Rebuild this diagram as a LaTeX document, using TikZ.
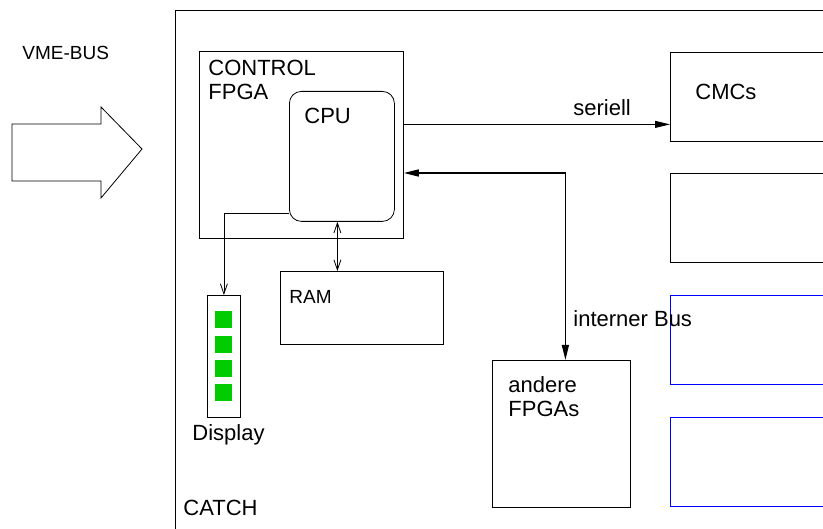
\documentclass[tikz,border=0pt]{standalone}
\usepackage{fontspec}
\setmainfont{Liberation Sans}
\usetikzlibrary{arrows.meta}
\usepackage{xcolor}

\definecolor{ledgreen}{RGB}{0,204,0}

\begin{document}
\begin{tikzpicture}[x=1pt,y=-1pt,line width=0.8pt]
      \tikzstyle{every node}=[inner sep=0pt,font=\fontsize{22}{24}\selectfont]
      \tikzstyle{box}=[draw,rectangle,anchor=north west]
      \tikzstyle{txt}=[anchor=base west,align=left]
      \tikzstyle{led}=[fill=ledgreen,anchor=north west,minimum size=17pt]
      \tikzstyle{small}=[font=\fontsize{19}{22}\selectfont]

      \useasboundingbox (0,0) rectangle (823,529);
      \clip (0,0) rectangle (823,529);

      % VME bus arrow
      \draw (12,124) -- (101,124) -- (101,107) -- (142,149) -- (101,198) -- (101,181) -- (12,181) -- cycle;
      \node[txt,small] (vme) at (22,60) {VME-BUS};

      % CATCH board
      \node[box,minimum width=725pt,minimum height=600pt] (catch) at (175,10) {};
      \node[txt] (catchlbl) at (183,516) {CATCH};

      % multi-line labels sit on the baseline of their last line
      \node[box,minimum width=204pt,minimum height=187pt] (ctrl) at (199,51) {};
      \node[txt] (ctrllbl) at (208,100) {CONTROL\\FPGA};
      \node[box,rounded corners=12pt,minimum width=105pt,minimum height=130pt] (cpu) at (289,91) {};
      \node[txt] (cpulbl) at (304,124) {CPU};

      \node[box,minimum width=163pt,minimum height=73pt] (ram) at (280,271) {};
      \node[txt,small] (ramlbl) at (289,304) {RAM};

      \node[box,minimum width=33pt,minimum height=122pt] (disp) at (207,295) {};
      \foreach \i in {0,...,3}
        \node[led] (led\i) at (215,{311+24.3*\i}) {};
      \node[txt] (displbl) at (192,441) {Display};

      \node[box,minimum width=138pt,minimum height=147pt] (others) at (492,360) {};
      \node[txt] (otherslbl) at (508,417) {andere\\FPGAs};

      % CMC slots
      \node[box,minimum width=230pt,minimum height=89pt] (cmc1) at (670,52) {};
      \node[box,minimum width=230pt,minimum height=89pt] (cmc2) at (670,173) {};
      \node[box,draw=blue,minimum width=230pt,minimum height=89pt] (cmc3) at (670,295) {};
      \node[box,draw=blue,minimum width=230pt,minimum height=89pt] (cmc4) at (670,417) {};
      \node[txt] (cmclbl) at (695,100) {CMCs};

      \draw[-{Triangle[length=15pt,width=7pt]}] ([yshift=-27.5pt]cmc1.west -| ctrl.east) -- ([yshift=-27.5pt]cmc1.west);
      \node[txt] (serlbl) at (573,116) {seriell};

      \draw[{Triangle[length=15pt,width=7pt]}-{Triangle[length=15pt,width=7pt]},line width=1.5pt]
        (ctrl.east |- cmc2.north) -| ([xshift=4pt]others.north);
      \node[txt] (buslbl) at (573,327) {interner Bus};

      \draw[{Straight Barb[length=10pt,width=7pt]}-{Straight Barb[length=10pt,width=7pt]}]
        ([xshift=-4.5pt]cpu.south) -- ([xshift=-4.5pt]cpu.south |- ram.north);
      \draw[-{Straight Barb[length=10pt,width=7pt]}] ([yshift=8pt]cpu.south west) -| (disp.north);
\end{tikzpicture}
\end{document}
